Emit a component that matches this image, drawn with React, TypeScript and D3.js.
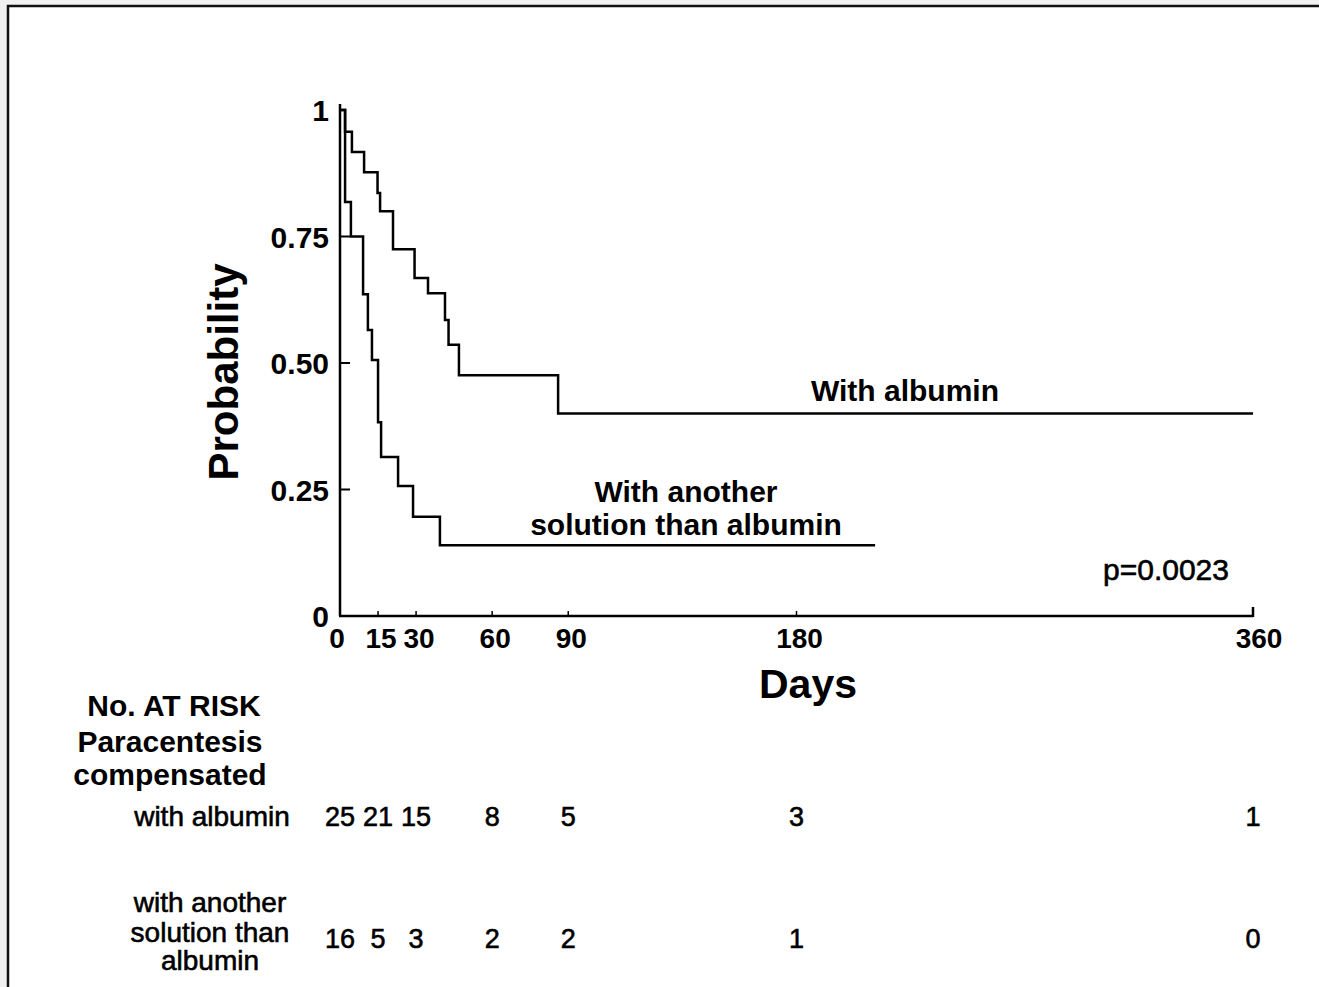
import * as d3 from "d3";

// Kaplan-Meier steps (days, survival probability)
const albuminDays = [0, 2, 4.7, 9.5, 14.8, 15.8, 20.9, 29.4, 34.7, 41.4, 42.8, 46.9, 86, 360];
const albuminProb = [1, 0.957, 0.917, 0.877, 0.836, 0.8, 0.725, 0.668, 0.638, 0.585, 0.536, 0.476, 0.4, 0.4];

const otherDays = [0, 2, 4.3, 9.1, 11, 12.6, 15, 16.2, 22.9, 28.8, 39.4, 211];
const otherProb = [1, 0.818, 0.75, 0.636, 0.565, 0.506, 0.383, 0.314, 0.257, 0.196, 0.14, 0.14];

const xTicks = [0, 15, 30, 60, 90, 180, 360];
const yTicks = [0, 0.25, 0.5, 0.75, 1];
const yTickLabels = ["0", "0.25", "0.50", "0.75", "1"];

// No. at risk table
const riskDays = [0, 15, 30, 60, 90, 180, 360];
const riskAlbumin = [25, 21, 15, 8, 5, 3, 1];
const riskOther = [16, 5, 3, 2, 2, 1, 0];

const W = 1319;
const H = 987;
const font = "'Liberation Sans', Arial, Helvetica, sans-serif";

export default function App() {
  const x = d3.scaleLinear().domain([0, 360]).range([340, 1253]);
  const y = d3.scaleLinear().domain([0, 1]).range([616, 110]);

  const line = d3
    .line<[number, number]>()
    .x((d) => x(d[0]))
    .y((d) => y(d[1]))
    .curve(d3.curveStepAfter);

  const albumin = albuminDays.map((d, i) => [d, albuminProb[i]] as [number, number]);
  const other = otherDays.map((d, i) => [d, otherProb[i]] as [number, number]);

  const x0 = x(0);
  const y0 = y(0);

  // small nudges of the tick labels, as in the scanned figure
  const xLabelShift = (t: number) => (t === 0 ? -3 : t === 360 ? 6 : 3);

  return (
    <svg
      width={W}
      height={H}
      style={{ position: "absolute", left: 0, top: 0, fontFamily: font }}
    >
      <defs>
        <clipPath id="crop">
          <rect x={0} y={0} width={1282} height={H} />
        </clipPath>
      </defs>
      <rect x={0} y={0} width={W} height={H} fill="#f1f1f1" />
      <rect x={8} y={6} width={W} height={H} fill="#fff" stroke="#111" strokeWidth={2.5} />

      {/* axes */}
      <line x1={x0} y1={104} x2={x0} y2={y0} stroke="#000" strokeWidth={2.5} />
      <line x1={x0 - 1} y1={y0} x2={x(360)} y2={y0} stroke="#000" strokeWidth={2.5} />
      <line x1={x(360)} y1={y0 + 1} x2={x(360)} y2={y0 - 9} stroke="#000" strokeWidth={2.5} />
      {xTicks.slice(1, -1).map((t) => (
        <line key={t} x1={x(t)} y1={y0} x2={x(t)} y2={y0 - 5} stroke="#000" strokeWidth={1.5} />
      ))}
      {yTicks.slice(1, -1).map((t) => (
        <line key={t} x1={x0} y1={y(t)} x2={x0 + 10} y2={y(t)} stroke="#000" strokeWidth={2} />
      ))}

      {/* tick labels */}
      {yTicks.map((t, i) => (
        <text
          key={t}
          x={329}
          y={y(t) + 11}
          textAnchor="end"
          fontSize={30}
          fontWeight="bold"
        >
          {yTickLabels[i]}
        </text>
      ))}
      <g clipPath="url(#crop)">
        {xTicks.map((t) => (
          <text
            key={t}
            x={x(t) + xLabelShift(t)}
            y={648}
            textAnchor="middle"
            fontSize={28}
            fontWeight="bold"
          >
            {t}
          </text>
        ))}
      </g>

      {/* axis titles */}
      <text x={808} y={698} textAnchor="middle" fontSize={41} fontWeight="bold">
        Days
      </text>
      <text
        transform={`translate(238, 372) rotate(-90)`}
        textAnchor="middle"
        fontSize={42}
        fontWeight="bold"
      >
        Probability
      </text>

      {/* curves */}
      <path d={line(albumin) ?? ""} fill="none" stroke="#000" strokeWidth={2.5} />
      <path d={line(other) ?? ""} fill="none" stroke="#000" strokeWidth={2.5} />

      {/* curve labels */}
      <g fontSize={30} fontWeight="bold" textAnchor="middle">
        <text x={905} y={401}>With albumin</text>
        <text x={686} y={502}>With another</text>
        <text x={686} y={535}>solution than albumin</text>
      </g>
      <text x={1229} y={580} textAnchor="end" fontSize={30} stroke="#000" strokeWidth={0.6}>
        p=0.0023
      </text>

      {/* number at risk */}
      <g fontSize={30} fontWeight="bold" textAnchor="middle">
        <text x={174} y={716}>No. AT RISK</text>
        <text x={170} y={752}>Paracentesis</text>
        <text x={170} y={785}>compensated</text>
      </g>
      <g fontSize={28} textAnchor="middle" stroke="#000" strokeWidth={0.6}>
        <text x={212} y={826}>with albumin</text>
        <text x={210} y={912}>with another</text>
        <text x={210} y={942}>solution than</text>
        <text x={210} y={970}>albumin</text>
      </g>
      <g fontSize={27} textAnchor="middle" stroke="#000" strokeWidth={0.6}>
        {riskDays.map((d, i) => (
          <text key={"a" + d} x={x(d)} y={826}>
            {riskAlbumin[i]}
          </text>
        ))}
        {riskDays.map((d, i) => (
          <text key={"o" + d} x={x(d)} y={948}>
            {riskOther[i]}
          </text>
        ))}
      </g>
    </svg>
  );
}
